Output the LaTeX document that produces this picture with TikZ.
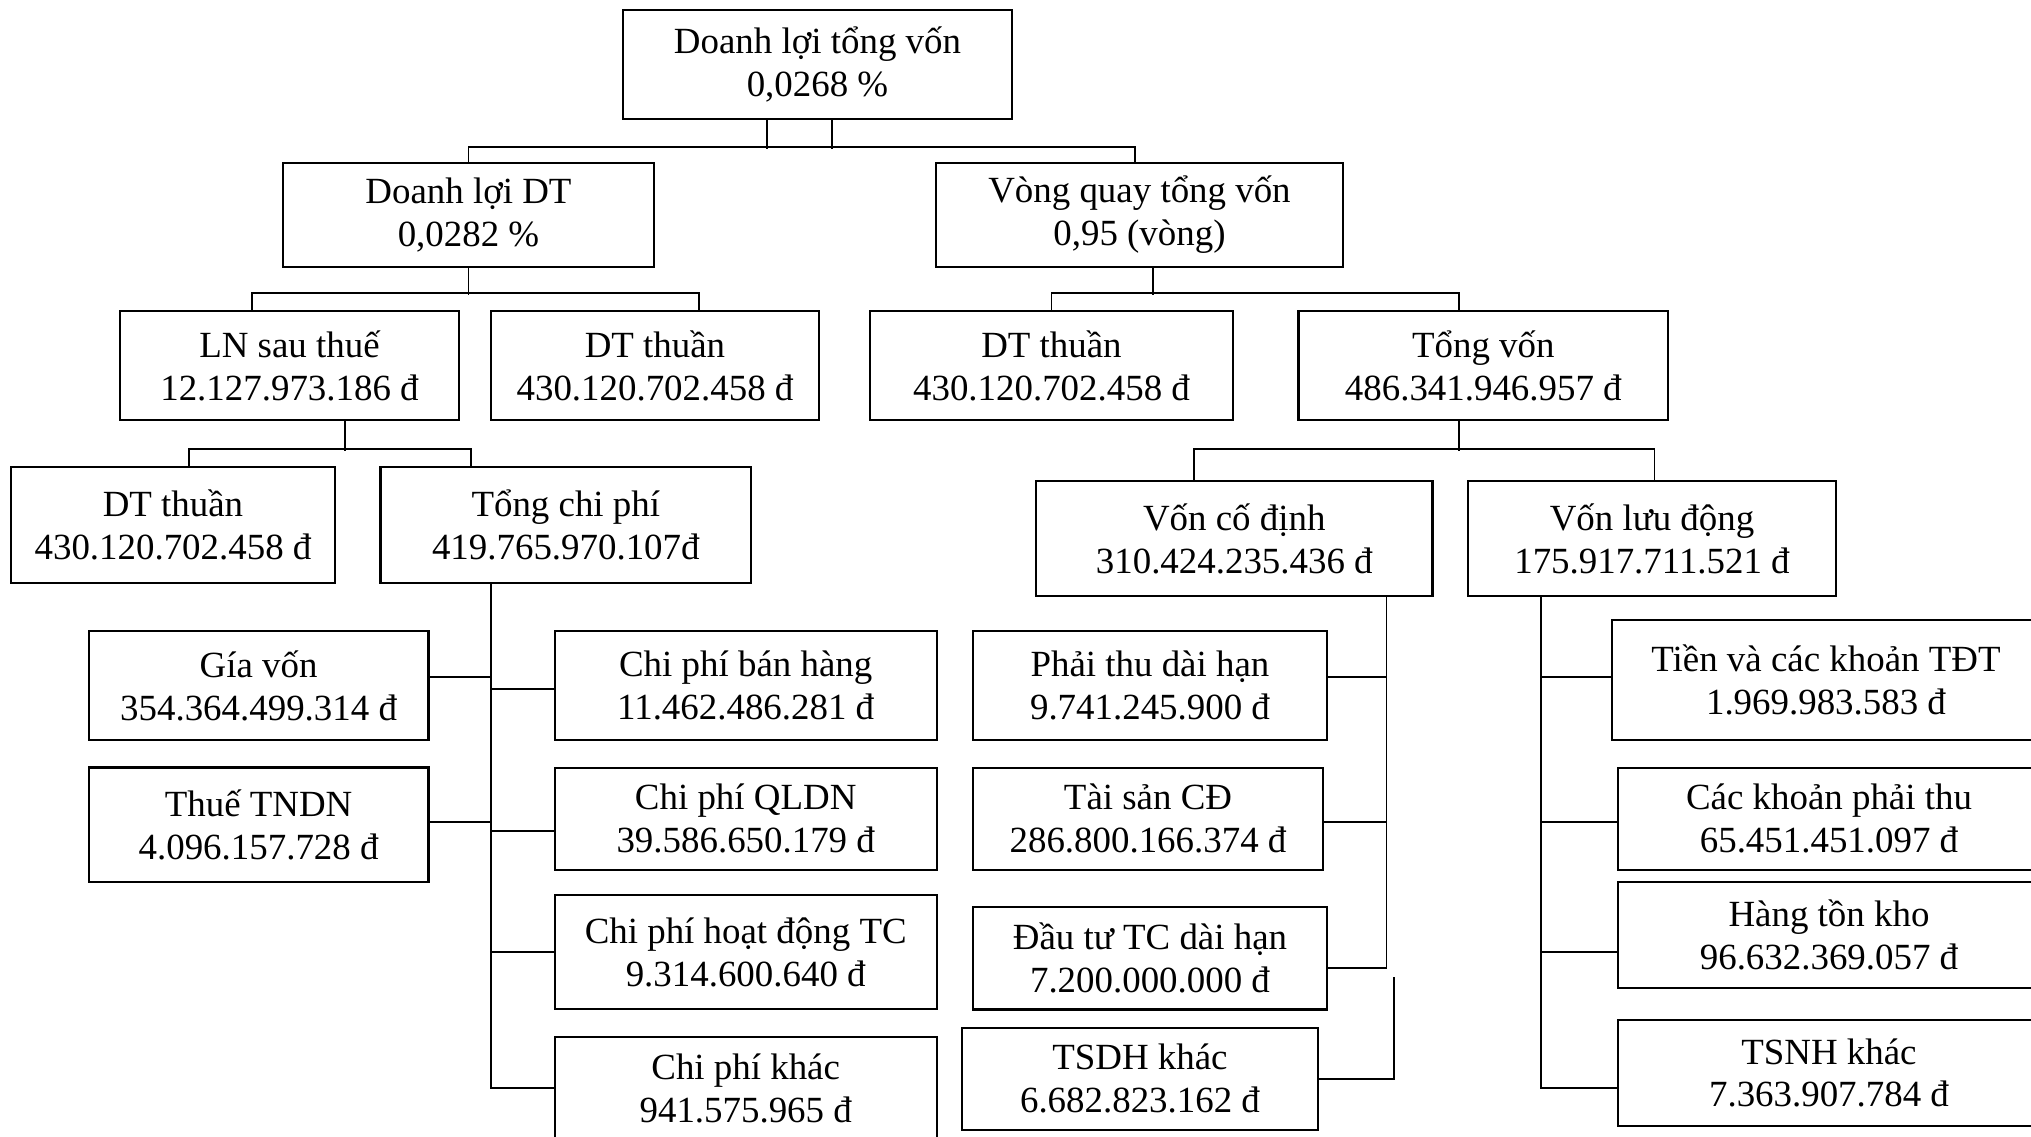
\documentclass[tikz,border=0pt]{standalone}
\usepackage{fontspec}
\setmainfont{Liberation Serif}
\usepackage{tikz}

\begin{document}
\begin{tikzpicture}[
box/.style={rectangle, draw, line width=0.65pt, align=center, inner sep=0pt,
font=\fontsize{10.5}{12.2}\selectfont}, conn/.style={line width=0.55pt, black} ]
\useasboundingbox (0,0) rectangle (20.31,-11.36);
\clip (0,0) rectangle (20.31,-11.36);
% upper tiers
\node[box, minimum width=3.89cm, minimum height=1.09cm] (top) at (8.175,-0.645) {Doanh lợi tổng vốn\\0,0268 \%};
\node[box, minimum width=3.71cm, minimum height=1.04cm] (dlt) at (4.685,-2.15) {Doanh lợi DT\\0,0282 \%};
\node[box, minimum width=4.07cm, minimum height=1.04cm] (vq) at (11.395,-2.15) {Vòng quay tổng vốn\\0,95 (vòng)};
\node[box, minimum width=3.39cm, minimum height=1.09cm] (lnst) at (2.895,-3.655) {LN sau thuế\\12.127.973.186 đ};
\node[box, minimum width=3.28cm, minimum height=1.09cm] (dt1) at (6.55,-3.655) {DT thuần\\430.120.702.458 đ};
\node[box, minimum width=3.63cm, minimum height=1.09cm] (dt2) at (10.515,-3.655) {DT thuần\\430.120.702.458 đ};
\node[box, minimum width=3.695cm, minimum height=1.09cm] (tv) at (14.833,-3.655) {Tổng vốn\\486.341.946.957 đ};
\node[box, minimum width=3.24cm, minimum height=1.16cm] (dt3) at (1.73,-5.25) {DT thuần\\430.120.702.458 đ};
\node[box, minimum width=3.704cm, minimum height=1.16cm] (tcp) at (5.658,-5.25) {Tổng chi phí\\419.765.970.107đ};
\node[box, minimum width=3.965cm, minimum height=1.15cm] (vcd) at (12.343,-5.385) {Vốn cố định\\310.424.235.436 đ};
\node[box, minimum width=3.68cm, minimum height=1.15cm] (vld) at (16.52,-5.385) {Vốn lưu động\\175.917.711.521 đ};
% chi phi
\node[box, minimum width=3.398cm, minimum height=1.09cm] (gv) at (2.586,-6.855) {Gía vốn\\354.364.499.314 đ};
\node[box, minimum width=3.398cm, minimum height=1.144cm] (tndn) at (2.586,-8.248) {Thuế TNDN\\4.096.157.728 đ};
\node[box, minimum width=3.819cm, minimum height=1.09cm] (cpbh) at (7.457,-6.855) {Chi phí bán hàng\\11.462.486.281 đ};
\node[box, minimum width=3.819cm, minimum height=1.021cm] (qldn) at (7.457,-8.187) {Chi phí QLDN\\39.586.650.179 đ};
\node[box, minimum width=3.819cm, minimum height=1.14cm] (hdtc) at (7.457,-9.52) {Chi phí hoạt động TC\\9.314.600.640 đ};
\node[box, minimum width=3.819cm, minimum height=1.02cm] (cpk) at (7.457,-10.88) {Chi phí khác\\941.575.965 đ};
% von co dinh
\node[box, minimum width=3.54cm, minimum height=1.09cm] (ptdh) at (11.5,-6.855) {Phải thu dài hạn\\9.741.245.900 đ};
\node[box, minimum width=3.50cm, minimum height=1.021cm] (tscd) at (11.48,-8.187) {Tài sản CĐ\\286.800.166.374 đ};
\node[box, minimum width=3.54cm, minimum height=1.024cm] (dttc) at (11.5,-9.582) {Đầu tư TC dài hạn\\7.200.000.000 đ};
\node[box, minimum width=3.56cm, minimum height=1.019cm] (tsdh) at (11.4,-10.787) {TSDH khác\\6.682.823.162 đ};
% von luu dong
\node[box, minimum width=4.28cm, minimum height=1.2cm] (tien) at (18.26,-6.797) {Tiền và các khoản TĐT\\1.969.983.583 đ};
\node[box, minimum width=4.22cm, minimum height=1.021cm] (ckpt) at (18.29,-8.187) {Các khoản phải thu\\65.451.451.097 đ};
\node[box, minimum width=4.22cm, minimum height=1.06cm] (htk) at (18.29,-9.348) {Hàng tồn kho\\96.632.369.057 đ};
\node[box, minimum width=4.22cm, minimum height=1.063cm] (tsnh) at (18.29,-10.729) {TSNH khác\\7.363.907.784 đ};

% links between tiers
\draw[conn] ([xshift=-0.505cm]top.south) -- ++(0,-0.29);
\draw[conn] ([xshift=0.145cm]top.south) -- ++(0,-0.29);
\draw[conn] (dlt.north) -- ++(0,0.15) -| ([xshift=-0.045cm]vq.north);
\draw[conn] (dlt.south) -- ++(0,-0.27);
\draw[conn] ([xshift=-0.375cm]lnst.north) -- ++(0,0.17) -| ([xshift=0.44cm]dt1.north);
\draw[conn] ([xshift=0.135cm]vq.south) -- ++(0,-0.27);
\draw[conn] (dt2.north) -- ++(0,0.17) -| ([xshift=-0.24cm]tv.north);
\draw[conn] ([xshift=-0.24cm]tv.south) -- ++(0,-0.30);
\draw[conn] ([xshift=-0.40cm]vcd.north) -- ++(0,0.31) -| ([xshift=0.025cm]vld.north);
\draw[conn] ([xshift=0.555cm]lnst.south) -- ++(0,-0.30);
\draw[conn] ([xshift=0.16cm]dt3.north) -- ++(0,0.17) -| ([xshift=-0.95cm]tcp.north);

% tong chi phi trunk
\coordinate (tk1) at ([xshift=-0.752cm]tcp.south);
\draw[conn] (tk1) |- (cpk.west);
\foreach \n/\dy in {gv/0.085, tndn/0.03}
  \draw[conn] ([yshift=\dy cm]\n.east) coordinate (p) -- (p -| tk1);
\foreach \n/\dy in {cpbh/-0.035, qldn/-0.12, hdtc/0}
  \draw[conn] ([yshift=\dy cm]\n.west) coordinate (p) -- (p -| tk1);

% von co dinh trunk
\coordinate (tk2) at ([xshift=1.522cm]vcd.south);
\draw[conn] (tk2) |- ([yshift=-0.094cm]dttc.east);
\foreach \n/\dy in {ptdh/0.085, tscd/-0.03}
  \draw[conn] ([yshift=\dy cm]\n.east) coordinate (p) -- (p -| tk2);
\draw[conn] (tsdh.east) -- ++(0.747,0) -- ++(0,1.02);

% von luu dong trunk
\coordinate (tk3) at ([xshift=-1.114cm]vld.south);
\draw[conn] (tk3) |- ([yshift=-0.15cm]tsnh.west);
\foreach \n/\dy in {tien/0.03, ckpt/-0.03, htk/-0.168}
  \draw[conn] ([yshift=\dy cm]\n.west) coordinate (p) -- (p -| tk3);
\end{tikzpicture}
\end{document}
